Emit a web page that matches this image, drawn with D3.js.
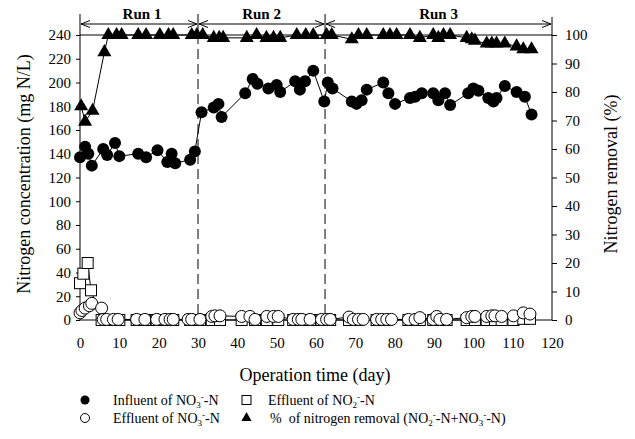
<!DOCTYPE html>
<html>
<head>
<meta charset="utf-8">
<script src="https://cdn.jsdelivr.net/npm/d3@7"></script>
<style>
  body { margin: 0; background: #fff; }
  text { font-family: "Liberation Serif", "Times New Roman", serif; fill: #000; }
</style>
</head>
<body>
<script>
// ---- data ----
const influentDays = [0, 1.3, 2.1, 3, 5.9, 6.9, 8.9, 10, 14.8, 16.8, 19.7, 22.2, 23.3, 24.2, 28, 29.2,
  30.9, 34, 35.2, 36, 42, 43.9, 45.1, 47.9, 50, 50.9, 54.7, 55.9, 57.2, 59.3, 62.1, 63, 64.2,
  69.1, 70.3, 71.6, 72.9, 77.1, 78.4, 80.1, 83.9, 85.2, 86.9, 89.8, 91.1, 92.8, 94.1,
  98.7, 100, 101.3, 103.8, 105.1, 105.9, 108, 111, 113.1, 114.8]
const influentNO3 = [137, 146, 140, 130, 144, 139, 149, 138, 140, 137, 143, 133, 140, 132, 135, 142,
  175, 179, 182, 171, 191, 203, 199, 195, 198, 192, 201, 194, 201, 210, 184, 200, 195,
  184, 182, 185, 194, 200, 191, 182, 187, 188, 191, 191, 185, 191, 181,
  191, 195, 193, 187, 184, 187, 197, 192, 188, 173]

const effNO2Days = [0, 0.85, 1.95, 2.8, 5.5, 7, 9, 10, 14.4, 16.5, 19.5, 22, 23.7, 28, 30.5, 33.5,
  35.6, 41.1, 44.5, 47.5, 50.4, 54.2, 56.4, 58.5, 61.4, 63.6, 68.4, 70.8, 75.4, 78, 83.5, 86.4,
  89.8, 91.5, 93.2, 98.3, 100.4, 103.4, 105.5, 107.2, 110.2, 112.7, 114.4]
const effluentNO2 = [31, 39, 48, 25, 0, 0, 0, 0, 0, 0, 0, 0, 0, 0, 0, 0,
  0, 0, 0, 0, 0, 0, 0, 0, 0, 0, 0, 0, 0, 0, 0, 0,
  0, 0, 0, 0, 0, 0, 0, 0, 0, 1, 1]

const effNO3Days = [0, 0.5, 1.3, 2.4, 3, 5.5, 5.9, 6.8, 8.5, 9.7, 14.4, 16.5, 19.5, 21.6, 22.9, 23.7,
  27.5, 28.4, 30.5, 33.5, 34.3, 35.6, 41.1, 43.2, 44.5, 47.5, 49.2, 50.4, 54.2, 55.5, 56.4, 58.5,
  61.4, 62.7, 63.6, 68.4, 69.5, 70.8, 72, 75.4, 76.7, 78, 79.2, 83.5, 85.2, 86.4, 89.8, 90.7,
  91.5, 93.2, 98.3, 99.6, 100.4, 103.4, 104.7, 105.5, 107.2, 110.2, 112.7, 114.4]
const effluentNO3 = [6, 8, 10, 12, 14, 10, 0.5, 0.5, 0.5, 0.5, 0.5, 0.5, 0.5, 0.5, 0.5, 0.5,
  0.5, 0.5, 0.5, 3, 3.5, 3.5, 3, 3, 0.5, 3, 3, 3, 0.5, 0.5, 0.5, 0.5,
  0.5, 0.5, 0.5, 2.5, 0.5, 0.5, 0.5, 0.5, 0.5, 0.5, 0.5, 0.5, 0.5, 2, 0.5, 3,
  0.5, 0.5, 2, 3, 3, 3, 3.5, 3.5, 3, 3.5, 6, 5]

const removalDays = [0.3, 1.3, 3.2, 6.2, 7.2, 9.3, 10.6, 14.8, 16.8, 20.3, 22.5, 23.7, 28.4, 29.7,
  31.2, 34, 35.4, 36.4, 42.4, 44.9, 47.4, 49.2, 50.9, 55.1, 57.4, 59.3, 62.7, 64,
  69.1, 70.8, 72.9, 77.1, 78.8, 80.5, 83.9, 86.4, 89.8, 91.1, 92.4, 94.1,
  98.3, 99.6, 100.4, 103.4, 104.7, 105.9, 108, 111, 112.7, 114.8]
const removalPct = [75, 69.6, 73.4, 94, 100, 100, 100, 100, 100, 100, 100, 100, 100, 100,
  100, 99, 99, 99, 99, 100, 99, 99, 99, 100, 100, 100, 100, 100,
  98.5, 100, 100, 100, 100, 100, 100, 99, 100, 99, 100, 100,
  99, 98.5, 98, 97, 97, 97, 97, 96, 95, 95]

const runNames = ["Run 1", "Run 2", "Run 3"]
const runStart = [0, 30, 62.3]
const runEnd = [30, 62.3, 120]

const leftTicks = d3.range(0, 241, 20)
const rightTicks = d3.range(0, 101, 10)
const xTicks = d3.range(0, 121, 10)

// ---- layout ----
const width = 635, height = 439
const svg = d3.select("body").append("svg")
  .attr("width", width).attr("height", height)

const x = d3.scaleLinear([0, 120], [80, 552])
const yL = d3.scaleLinear([0, 240], [320, 35])
const yR = d3.scaleLinear([0, 100], [320, 35])
const axisTop = 14

// axes
const gL = svg.append("g").attr("transform", "translate(80,0)")
  .call(d3.axisLeft(yL).tickValues(leftTicks).tickSize(4).tickPadding(5).tickSizeOuter(0))
gL.select(".domain").remove()
gL.append("line").attr("y1", axisTop).attr("y2", 320).attr("stroke", "#000")

const gR = svg.append("g").attr("transform", "translate(552,0)")
  .call(d3.axisRight(yR).tickValues(rightTicks).tickSize(5).tickPadding(8).tickSizeOuter(0))
gR.select(".domain").remove()
gR.append("line").attr("y1", axisTop + 3).attr("y2", 320).attr("stroke", "#000")

const gB = svg.append("g").attr("transform", "translate(0,320)")
  .call(d3.axisBottom(x).tickValues(xTicks).tickSize(0).tickPadding(17))
gB.select(".domain").attr("d", "M80,0H552")

svg.selectAll(".tick text").style("font-family", "Liberation Serif").style("font-size", "15px")

// 100 % reference line
svg.append("line")
  .attr("x1", x(0)).attr("x2", x(120))
  .attr("y1", yR(100)).attr("y2", yR(100))
  .attr("stroke", "#000").attr("stroke-width", 1)

// run separators
const seps = [30, 62.3]
seps.forEach(d => {
  svg.append("line").attr("x1", x(d)).attr("x2", x(d)).attr("y1", axisTop).attr("y2", 34)
    .attr("stroke", "#000")
  svg.append("line").attr("x1", x(d)).attr("x2", x(d)).attr("y1", 34).attr("y2", 320)
    .attr("stroke", "#000").attr("stroke-dasharray", "10,5")
})

// run arrows
const ay = 24
runNames.forEach((name, i) => {
  const a = x(runStart[i]) + 1, b = x(runEnd[i]) - 1
  const g = svg.append("g").attr("fill", "none").attr("stroke", "#000").attr("stroke-width", 1)
  g.append("line").attr("x1", a).attr("x2", b).attr("y1", ay).attr("y2", ay)
  g.append("path").attr("d", `M${a + 9},${ay - 3.5}L${a},${ay}L${a + 9},${ay + 3.5}`)
  g.append("path").attr("d", `M${b - 9},${ay - 3.5}L${b},${ay}L${b - 9},${ay + 3.5}`)
  svg.append("text")
    .attr("x", (x(runStart[i]) + x(runEnd[i])) / 2 + (i == 0 ? 3 : 0))
    .attr("y", 19)
    .attr("text-anchor", "middle")
    .style("font-size", "15px").style("font-weight", "bold")
    .text(name)
})

// series
function series(days, vals, scale) {
  return days.map((d, i) => ({ x: x(d), y: scale(vals[i]) }))
}
const inf = series(influentDays, influentNO3, yL)
const no2 = series(effNO2Days, effluentNO2, yL)
const no3 = series(effNO3Days, effluentNO3, yL)
const rem = series(removalDays, removalPct, yR)

const line = d3.line().x(d => d.x).y(d => d.y)
;[no2, no3, inf, rem].forEach(s => {
  svg.append("path").attr("d", line(s)).attr("fill", "none")
    .attr("stroke", "#000").attr("stroke-width", 1)
})

const triPath = d3.symbol(d3.symbolTriangle, 85)()

svg.append("g").selectAll("rect").data(no2).join("rect")
  .attr("x", d => d.x - 5.5).attr("y", d => d.y - 5.5).attr("width", 11).attr("height", 11)
  .attr("fill", "#fff").attr("stroke", "#000").attr("stroke-width", 1)

svg.append("g").selectAll("circle").data(no3).join("circle")
  .attr("cx", d => d.x).attr("cy", d => d.y).attr("r", 6)
  .attr("fill", "#fff").attr("stroke", "#000").attr("stroke-width", 1)

svg.append("g").selectAll("circle").data(inf).join("circle")
  .attr("cx", d => d.x).attr("cy", d => d.y).attr("r", 6)
  .attr("fill", "#000")

svg.append("g").selectAll("path").data(rem).join("path")
  .attr("d", triPath).attr("transform", d => `translate(${d.x},${d.y})`)
  .attr("fill", "#000")

// axis titles
svg.append("text").attr("transform", "translate(30,174) rotate(-90)")
  .attr("text-anchor", "middle").style("font-size", "18px")
  .text("Nitrogen concentration (mg N/L)")
svg.append("text").attr("transform", "translate(617,174) rotate(-90)")
  .attr("text-anchor", "middle").style("font-size", "18px")
  .text("Nitrogen removal (%)")
svg.append("text").attr("x", 315).attr("y", 381)
  .attr("text-anchor", "middle").style("font-size", "18px")
  .text("Operation time (day)")

// legend
function chem(t, n) {
  // NOn⁻ with subscript number and superscript minus
  t.append("tspan").text("NO")
  t.append("tspan").text(n).attr("dy", 3).style("font-size", "9px")
  t.append("tspan").text("-").attr("dy", -8).style("font-size", "9px")
  t.append("tspan").text("-N").attr("dy", 5)
}
const r1 = 400, r2 = 418
svg.append("circle").attr("cx", 85).attr("cy", r1).attr("r", 4.5).attr("fill", "#000")
svg.append("circle").attr("cx", 85).attr("cy", r2).attr("r", 4.5)
  .attr("fill", "#fff").attr("stroke", "#000")
svg.append("rect").attr("x", 242).attr("y", r1 - 4.5).attr("width", 9).attr("height", 9)
  .attr("fill", "#fff").attr("stroke", "#000")
svg.append("path").attr("d", d3.symbol(d3.symbolTriangle, 45)())
  .attr("transform", `translate(246.5,${r2})`).attr("fill", "#000")

const legFont = "14px"
let t = svg.append("text").attr("x", 113).attr("y", r1 + 5).style("font-size", legFont)
t.append("tspan").text("Influent of ")
chem(t, "3")
t = svg.append("text").attr("x", 113).attr("y", r2 + 5).style("font-size", legFont)
t.append("tspan").text("Effluent of ")
chem(t, "3")
t = svg.append("text").attr("x", 268).attr("y", r1 + 5).style("font-size", legFont)
t.append("tspan").text("Effluent of ")
chem(t, "2")
t = svg.append("text").attr("x", 270).attr("y", r2 + 5).style("font-size", legFont)
  .attr("xml:space", "preserve").style("white-space", "pre")
t.append("tspan").text("%  of nitrogen removal (")
chem(t, "2")
t.append("tspan").text("+")
chem(t, "3")
t.append("tspan").text(")")
</script>
</body>
</html>
